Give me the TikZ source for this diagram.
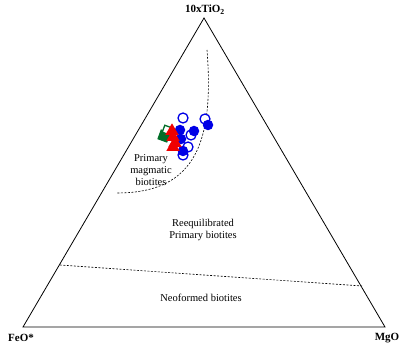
\documentclass[tikz,border=0pt]{standalone}
\usepackage{fontspec}
\setmainfont{Liberation Serif}
\usetikzlibrary{shapes.geometric}
\definecolor{ptblue}{RGB}{0,0,230}
\definecolor{ptgreen}{RGB}{0,110,40}
\definecolor{ptred}{RGB}{240,0,0}
\tikzset{
  apex/.style={font=\bfseries\fontsize{11}{13}\selectfont, inner sep=0pt},
  field/.style={font=\fontsize{10.5}{12}\selectfont, align=center, inner sep=0pt},
  side/.style={line width=0.8pt, black},
  bound/.style={dashed, dash pattern=on 2pt off 1.5pt, line width=0.6pt},
  opencirc/.style={circle, draw=ptblue, line width=1.3pt, minimum size=10pt, inner sep=0pt, fill=white},
  fullcirc/.style={circle, fill=ptblue, minimum size=10.5pt, inner sep=0pt},
  fulldia/.style={diamond, fill=ptgreen, minimum size=15pt, inner sep=0pt, rotate=25},
  opendia/.style={diamond, draw=ptgreen, line width=1.3pt, fill=white, minimum size=11pt, inner sep=0pt, rotate=25},
  tri/.style={isosceles triangle, isosceles triangle apex angle=60, shape border rotate=90, fill=ptred, minimum size=11.5pt, inner sep=0pt},
}
\begin{document}
\begin{tikzpicture}[x=1pt, y=-1pt]
\useasboundingbox (0,0) rectangle (399,344);
% ternary frame
\coordinate (T) at (204,18);
\coordinate (F) at (23,327);
\coordinate (M) at (385,327);
\draw[side] (T) -- (F) -- (M) -- cycle;

% field boundaries
\coordinate (c0) at (207,50);
\coordinate (c1) at (117,193);
\draw[bound] (c0) .. controls (214,140) and (197,193) .. (c1);
\coordinate (h0) at (60,265);
\coordinate (h1) at (362,286);
\draw[bound] (h0) -- (h1);

% vertex labels
\node[apex] (lT) at (205,10) {10xTiO\textsubscript{2}};
\node[apex] (lF) at (21,338) {FeO*};
\node[apex] (lM) at (387,338) {MgO};

% field labels
\node[field] (f1) at (151,170) {Primary\\magmatic\\biotites};
\node[field] (f2) at (203,230) {Reequilibrated\\Primary biotites};
\node[field] (f3) at (201,298) {Neoformed biotites};

% analyses
\node[opencirc] (o1) at (183,118) {};
\node[opencirc] (o2) at (205,119) {};
\node[fullcirc] (b1) at (208,125) {};
\node[opencirc] (o3) at (191,135) {};
\node[fullcirc] (b2) at (194,131) {};
\node[fullcirc] (b3) at (180,130) {};
\node[fullcirc] (b4) at (181,139) {};
\node[opencirc] (o4) at (188,147) {};
\node[opencirc] (o5) at (183,155) {};
\node[fullcirc] (b5) at (183,151) {};
\node[fulldia] (d1) at (164,136) {};
\node[opendia] (d2) at (167,130) {};
\node[tri] (t1) at (172,131) {};
\node[tri] (t2) at (173,137) {};
\node[tri] (t3) at (175,143) {};
\node[tri] (t4) at (173,147) {};
\end{tikzpicture}
\end{document}
